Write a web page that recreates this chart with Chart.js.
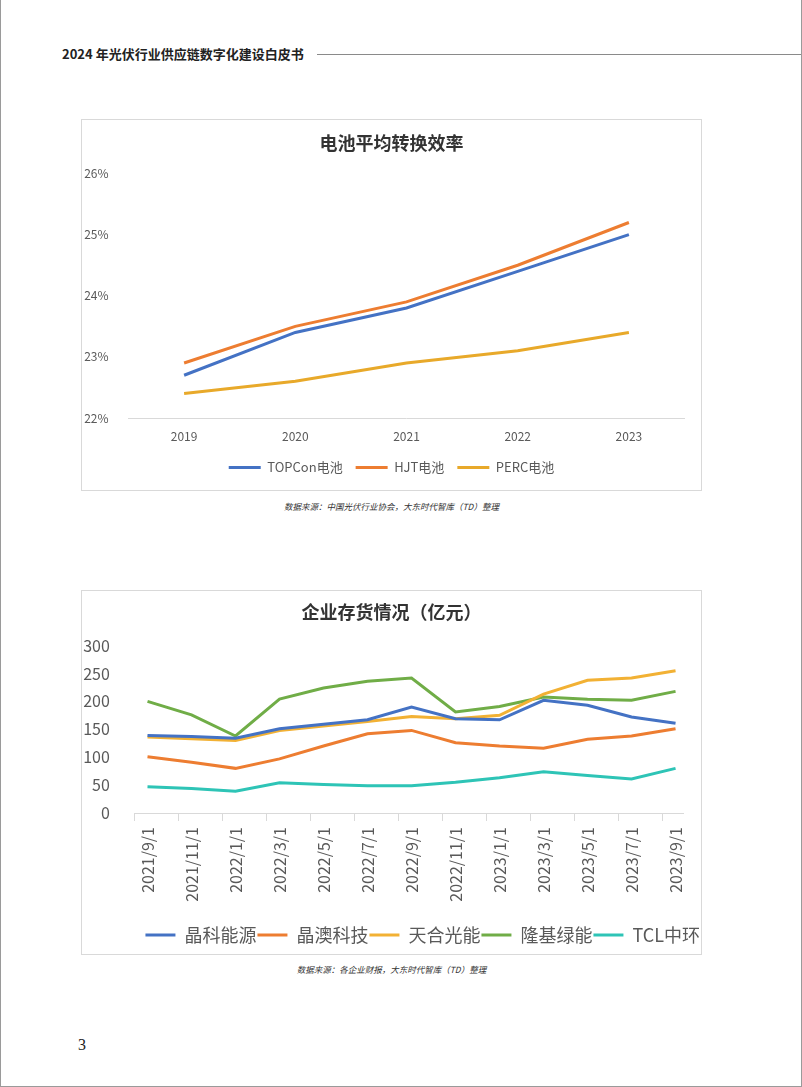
<!DOCTYPE html>
<html>
<head>
<meta charset="utf-8">
<script src="https://cdn.jsdelivr.net/npm/chart.js@4.4.0/dist/chart.umd.min.js"></script>
<style>
  html, body { margin: 0; padding: 0; background: #fff; }
  #page { position: relative; width: 802px; height: 1087px; box-sizing: border-box;
          border-left: 1px solid #9a9a9a; border-right: 1px solid #9a9a9a; border-bottom: 1px solid #9a9a9a;
          font-family: 'Noto Sans CJK SC', 'Noto Sans', sans-serif; overflow: hidden; }
  #header { position: absolute; left: 61px; top: 44px; font-size: 13px; font-weight: bold; color: #222; white-space: nowrap; }
  #rule { position: absolute; left: 316px; right: 0; top: 54px; height: 0; border-top: 1px solid #8a8a8a; }
  .box { position: absolute; left: 80px; width: 621px; box-sizing: border-box; border: 1px solid #d9d9d9; }
  .box canvas { display: block; }
  .src { position: absolute; left: 80px; width: 621px; text-align: center; font-size: 8.5px; font-style: italic; color: #333; }
  #pageno { position: absolute; left: 77px; top: 1036px; font-family: 'Liberation Serif', serif; font-size: 16px; color: #222; }
</style>
</head>
<body>
<div id="page">
  <div id="header">2024 年光伏行业供应链数字化建设白皮书</div>
  <div id="rule"></div>
  <div class="box" style="top:119px;height:372px"><canvas id="effChart" width="619" height="370"></canvas></div>
  <div class="src" style="top:500px">数据来源：中国光伏行业协会，大东时代智库（TD）整理</div>
  <div class="box" style="top:590px;height:365px"><canvas id="stockChart" width="619" height="363"></canvas></div>
  <div class="src" style="top:963px">数据来源：各企业财报，大东时代智库（TD）整理</div>
  <div id="pageno">3</div>
</div>
<script>
const FONT = "'Noto Sans CJK SC', 'Noto Sans', sans-serif";

// chart 1: 电池平均转换效率 (%)
const years = ['2019', '2020', '2021', '2022', '2023'];
const topcon = [22.7, 23.4, 23.8, 24.4, 25.0];
const hjt = [22.9, 23.5, 23.9, 24.5, 25.2];
const perc = [22.4, 22.6, 22.9, 23.1, 23.4];
const effTicks = [22, 23, 24, 25, 26];

// chart 2: 企业存货情况 (亿元)
const months = ['2021/9/1', '2021/11/1', '2022/1/1', '2022/3/1', '2022/5/1', '2022/7/1', '2022/9/1',
  '2022/11/1', '2023/1/1', '2023/3/1', '2023/5/1', '2023/7/1', '2023/9/1'];
const jinko = [139, 137, 134, 151, 159, 167, 190, 169, 167, 202, 193, 172, 161];
const jaSolar = [101, 91, 80, 97, 120, 142, 148, 126, 120, 116, 132, 138, 151];
const trina = [136, 133, 130, 148, 156, 164, 173, 169, 175, 213, 238, 242, 255];
const longi = [200, 176, 138, 204, 224, 236, 242, 181, 191, 208, 204, 202, 218];
const tcl = [47, 44, 39, 54, 51, 49, 49, 55, 63, 74, 67, 61, 80];
const stockTicks = [0, 50, 100, 150, 200, 250, 300];

const line = (label, data, color) => ({
  label, data,
  borderColor: color, backgroundColor: color,
  borderWidth: 3, pointRadius: 0, tension: 0, fill: false
});

// empty axis on the right, only to keep the plot short of the box edge
const rightGap = w => ({
  position: 'right', display: true,
  afterFit: s => { s.width = w; },
  grid: { display: false, drawTicks: false },
  border: { display: false },
  ticks: { display: false }
});

new Chart(document.getElementById('effChart'), {
  type: 'line',
  data: {
    labels: years,
    datasets: [
      line('TOPCon电池', topcon, '#4472C4'),
      line('HJT电池', hjt, '#ED7D31'),
      line('PERC电池', perc, '#E8A92A')
    ]
  },
  options: {
    responsive: false, animation: false,
    layout: { padding: { left: 0, right: 0, top: 0, bottom: 6 } },
    plugins: {
      title: {
        display: true, text: '电池平均转换效率', color: '#333',
        font: { family: FONT, size: 18, weight: 'bold' },
        padding: { top: 12, bottom: 20 }
      },
      legend: {
        position: 'bottom',
        labels: {
          usePointStyle: true, pointStyle: 'line', pointStyleWidth: 32,
          color: '#595959', font: { family: FONT, size: 13 }, padding: 13
        }
      },
      tooltip: { enabled: false }
    },
    scales: {
      x: {
        offset: true,
        afterFit: s => { s.height = 30; },
        grid: { display: false, drawTicks: false },
        border: { display: true, color: '#d9d9d9' },
        ticks: { color: '#595959', font: { family: FONT, size: 12 }, padding: 11 }
      },
      y: {
        min: 22, max: 26,
        afterBuildTicks: s => { s.ticks = effTicks.map(v => ({ value: v })); },
        afterFit: s => { s.width = 46.5; },
        grid: { display: false },
        border: { display: false },
        ticks: { color: '#595959', font: { family: FONT, size: 12 }, padding: 12, callback: v => v + '%' }
      },
      yPad: rightGap(16.5)
    }
  }
});

const pts = arr => arr.map((v, i) => ({ x: i, y: v }));

new Chart(document.getElementById('stockChart'), {
  type: 'line',
  data: {
    datasets: [
      line('晶科能源', pts(jinko), '#4472C4'),
      line('晶澳科技', pts(jaSolar), '#ED7D31'),
      line('天合光能', pts(trina), '#F2B134'),
      line('隆基绿能', pts(longi), '#70AD47'),
      line('TCL中环', pts(tcl), '#2EC4B6')
    ]
  },
  options: {
    responsive: false, animation: false,
    layout: { padding: { left: 0, right: 0, top: 0, bottom: 0 } },
    plugins: {
      title: {
        display: true, text: '企业存货情况（亿元）', color: '#333',
        font: { family: FONT, size: 18, weight: 'bold' },
        padding: { top: 10, bottom: 23 }
      },
      legend: {
        position: 'bottom', align: 'end',
        labels: {
          usePointStyle: true, pointStyle: 'line', pointStyleWidth: 30,
          color: '#595959', font: { family: FONT, size: 18 }, padding: 1
        }
      },
      tooltip: { enabled: false }
    },
    scales: {
      // axis line and tick marks between the month labels
      xTicks: {
        type: 'linear', position: 'bottom', weight: 0,
        min: -0.3, max: 12.18,
        afterBuildTicks: s => { s.ticks = months.map((m, i) => ({ value: i - 0.3 })); },
        grid: { display: true, drawOnChartArea: false, drawTicks: true, tickLength: 8, color: '#d9d9d9' },
        border: { display: true, color: '#d9d9d9' },
        ticks: { display: false }
      },
      x: {
        type: 'linear', position: 'bottom', weight: 1,
        min: -0.3, max: 12.18,
        afterBuildTicks: s => { s.ticks = months.map((m, i) => ({ value: i })); },
        afterFit: s => { s.height = 104; },
        grid: { display: false, drawTicks: false },
        border: { display: false },
        ticks: {
          color: '#595959', font: { family: FONT, size: 16 }, padding: 6,
          minRotation: 90, maxRotation: 90, autoSkip: false,
          callback: v => months[v]
        }
      },
      y: {
        min: 0, max: 300,
        afterBuildTicks: s => { s.ticks = stockTicks.map(v => ({ value: v })); },
        afterFit: s => { s.width = 52.3; },
        grid: { display: false },
        border: { display: false },
        ticks: { color: '#595959', font: { family: FONT, size: 16 }, padding: 16.5 }
      },
      yPad: rightGap(15)
    }
  }
});
</script>
</body>
</html>
